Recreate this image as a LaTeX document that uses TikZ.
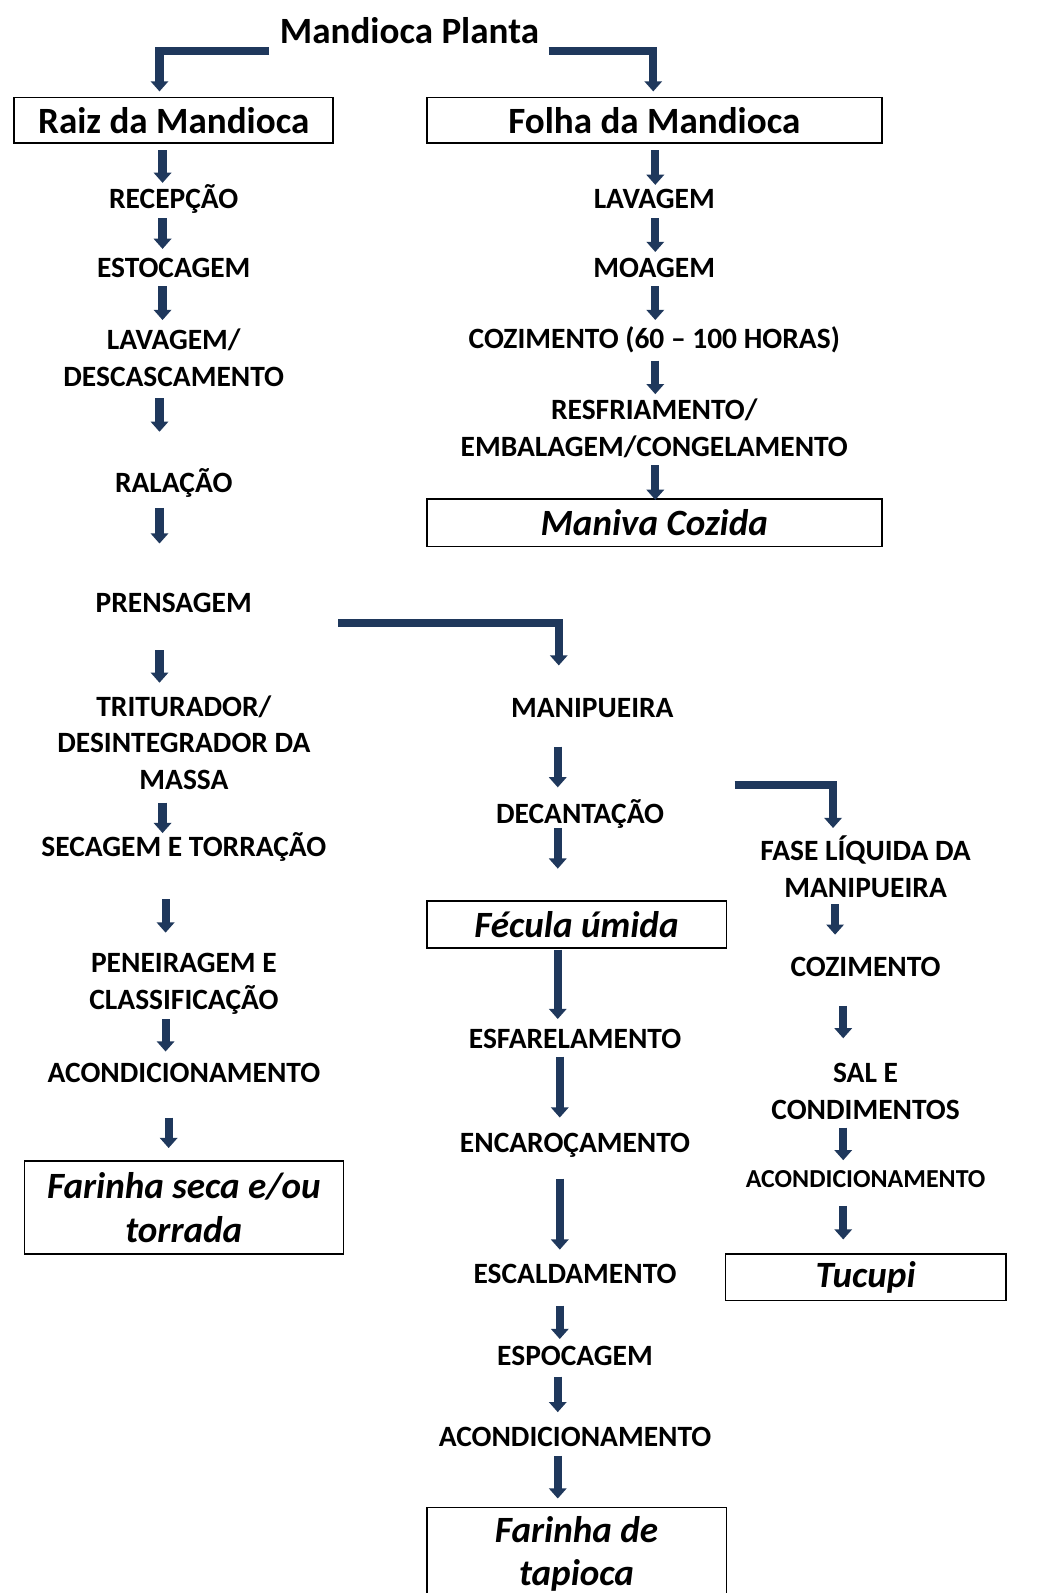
\documentclass[tikz,border=0pt]{standalone}
\usepackage{fontspec}
\setmainfont{Carlito}
\usetikzlibrary{arrows.meta}
\definecolor{navy}{RGB}{31,56,92}
\tikzset{
  lab/.style={font=\fontsize{29}{36}\selectfont\bfseries, align=center, inner sep=0pt},
  smalllab/.style={lab, font=\fontsize{25.5}{30}\selectfont\bfseries},
  headlab/.style={font=\fontsize{36.5}{40}\selectfont\bfseries, inner sep=0pt},
  box/.style={draw=black, line width=1.6pt, font=\fontsize{36.5}{43}\selectfont\bfseries,
    align=center, inner sep=0pt},
  prodbox/.style={box, font=\fontsize{36.5}{43}\selectfont\bfseries\itshape},
  flow/.style={draw=navy, line width=8pt, line join=miter, -{Triangle[width=17pt,length=10pt]}},
}
\begin{document}
\begin{tikzpicture}[x=1pt, y=-1pt]
\fill[white] (0,0) rectangle (1024,1568);
\useasboundingbox (0,0) rectangle (1024,1568);

% top of the tree
\node[headlab] (plant) at (403,30) {Mandioca Planta};
\node[box, minimum width=314pt, minimum height=45pt] (raiz) at (171,118.5) {Raiz da Mandioca};
\node[box, minimum width=448pt, minimum height=45pt] (folha) at (644,118.5) {Folha da Mandioca};

% root line
\node[lab] (recep)   at (171,196) {RECEPÇÃO};
\node[lab] (estoc)   at (171,264) {ESTOCAGEM};
\node[lab] (lavdesc) at (171,352) {LAVAGEM/\\DESCASCAMENTO};
\node[lab] (ralac)   at (171,475) {RALAÇÃO};
\node[lab] (prens)   at (171,593) {PRENSAGEM};
\node[lab] (trit)    at (181,731) {TRITURADOR/\\DESINTEGRADOR DA\\MASSA};
\node[lab] (secag)   at (181,834) {SECAGEM E TORRAÇÃO};
\node[lab] (peneir)  at (181,968.5) {PENEIRAGEM E\\CLASSIFICAÇÃO};
\node[lab] (acondL)  at (181,1056) {ACONDICIONAMENTO};
\node[prodbox, minimum width=314pt, minimum height=91pt] (farseca) at (181,1188.5) {Farinha seca e/ou\\torrada};

% leaf line
\node[lab] (lavF) at (644,196) {LAVAGEM};
\node[lab] (moag) at (644,264) {MOAGEM};
\node[lab] (cozF) at (644,334) {COZIMENTO (60 – 100 HORAS)};
\node[lab] (resf) at (644,421.5) {RESFRIAMENTO/\\EMBALAGEM/CONGELAMENTO};
\node[prodbox, minimum width=448pt, minimum height=47pt] (maniva) at (644,514.5) {Maniva Cozida};

% manipueira line
\node[lab] (manip)  at (583,697) {MANIPUEIRA};
\node[lab] (decant) at (571,801) {DECANTAÇÃO};
\node[prodbox, minimum width=295pt, minimum height=46pt] (fecula) at (567.5,910) {Fécula úmida};
\node[lab] (esfar)  at (566,1023) {ESFARELAMENTO};
\node[lab] (encar)  at (566,1127) {ENCAROÇAMENTO};
\node[lab] (escald) at (566,1254) {ESCALDAMENTO};
\node[lab] (espoc)  at (566,1335) {ESPOCAGEM};
\node[lab] (acondM) at (566,1414) {ACONDICIONAMENTO};
\node[prodbox, minimum width=295pt, minimum height=91pt] (tapioca) at (567.5,1529.5) {Farinha de\\tapioca};

% liquid phase line
\node[lab] (fase)   at (852,853) {FASE LÍQUIDA DA\\MANIPUEIRA};
\node[lab] (cozT)   at (852,952) {COZIMENTO};
\node[lab] (sal)    at (852,1074.5) {SAL E\\CONDIMENTOS};
\node[smalllab] (acondT) at (852,1161) {ACONDICIONAMENTO};
\node[prodbox, minimum width=276pt, minimum height=46pt] (tucupi) at (852,1257) {Tucupi};

% elbow connectors
\draw[flow] ([xshift=-138pt,yshift=-20pt]plant.center) -| ([xshift=-14pt,yshift=28.5pt]raiz.center);
\draw[flow] ([xshift=137pt,yshift=-20pt]plant.center) -| ([xshift=-1pt,yshift=28.5pt]folha.center);
\draw[flow] ([xshift=162pt,yshift=-20pt]prens.center) -| ([xshift=-33pt,yshift=42pt]manip.center);
\draw[flow] ([xshift=152pt,yshift=28pt]decant.center) -| ([xshift=-32pt,yshift=38pt]fase.center);

% root steps
\draw[flow] ([xshift=-11pt,yshift=-29.5pt]raiz.center) -- ([xshift=-11pt,yshift=16pt]recep.center);
\draw[flow] ([xshift=-11pt,yshift=-19pt]recep.center) -- ([xshift=-11pt,yshift=19pt]estoc.center);
\draw[flow] ([xshift=-11pt,yshift=-18pt]estoc.center) -- ([xshift=-11pt,yshift=37pt]lavdesc.center);
\draw[flow] ([xshift=-14pt,yshift=-40pt]lavdesc.center) -- ([xshift=-14pt,yshift=50pt]ralac.center);
\draw[flow] ([xshift=-14pt,yshift=-25pt]ralac.center) -- ([xshift=-14pt,yshift=58pt]prens.center);
\draw[flow] ([xshift=-14pt,yshift=-47pt]prens.center) -- ([xshift=-24pt,yshift=59pt]trit.center);
\draw[flow] ([xshift=-21pt,yshift=-59pt]trit.center) -- ([xshift=-21pt,yshift=14pt]secag.center);
\draw[flow] ([xshift=-18pt,yshift=-51pt]secag.center) -- ([xshift=-18pt,yshift=50.5pt]peneir.center);
\draw[flow] ([xshift=-18pt,yshift=-34.5pt]peneir.center) -- ([xshift=-18pt,yshift=21pt]acondL.center);
\draw[flow] ([xshift=-15pt,yshift=-44pt]acondL.center) -- ([xshift=-15pt,yshift=58.5pt]farseca.center);

% leaf steps
\draw[flow] ([xshift=1pt,yshift=-29.5pt]folha.center) -- ([xshift=1pt,yshift=14pt]lavF.center);
\draw[flow] ([xshift=1pt,yshift=-19pt]lavF.center) -- ([xshift=1pt,yshift=16pt]moag.center);
\draw[flow] ([xshift=1pt,yshift=-18pt]moag.center) -- ([xshift=1pt,yshift=19pt]cozF.center);
\draw[flow] ([xshift=1pt,yshift=-21pt]cozF.center) -- ([xshift=1pt,yshift=33.5pt]resf.center);
\draw[flow] ([xshift=1pt,yshift=-36.5pt]resf.center) -- ([xshift=1pt,yshift=22.5pt]maniva.center);

% manipueira steps
\draw[flow] ([xshift=-34pt,yshift=-38pt]manip.center) -- ([xshift=-22pt,yshift=26pt]decant.center);
\draw[flow] ([xshift=-22pt,yshift=-14pt]decant.center) -- ([xshift=-18.5pt,yshift=55pt]fecula.center);
\draw[flow] ([xshift=-18.5pt,yshift=-25pt]fecula.center) -- ([xshift=-17pt,yshift=20pt]esfar.center);
\draw[flow] ([xshift=-15pt,yshift=-17pt]esfar.center) -- ([xshift=-15pt,yshift=27pt]encar.center);
\draw[flow] ([xshift=-15pt,yshift=-33pt]encar.center) -- ([xshift=-15pt,yshift=24pt]escald.center);
\draw[flow] ([xshift=-15pt,yshift=-31pt]escald.center) -- ([xshift=-15pt,yshift=17pt]espoc.center);
\draw[flow] ([xshift=-17pt,yshift=-20pt]espoc.center) -- ([xshift=-17pt,yshift=24pt]acondM.center);
\draw[flow] ([xshift=-17pt,yshift=-19pt]acondM.center) -- ([xshift=-18.5pt,yshift=54.5pt]tapioca.center);

% liquid phase steps
\draw[flow] ([xshift=-30pt,yshift=-37pt]fase.center) -- ([xshift=-30pt,yshift=32pt]cozT.center);
\draw[flow] ([xshift=-22pt,yshift=-38pt]cozT.center) -- ([xshift=-22pt,yshift=52.5pt]sal.center);
\draw[flow] ([xshift=-22pt,yshift=-35.5pt]sal.center) -- ([xshift=-22pt,yshift=19pt]acondT.center);
\draw[flow] ([xshift=-22pt,yshift=-26pt]acondT.center) -- ([xshift=-22pt,yshift=37pt]tucupi.center);
\end{tikzpicture}
\end{document}
